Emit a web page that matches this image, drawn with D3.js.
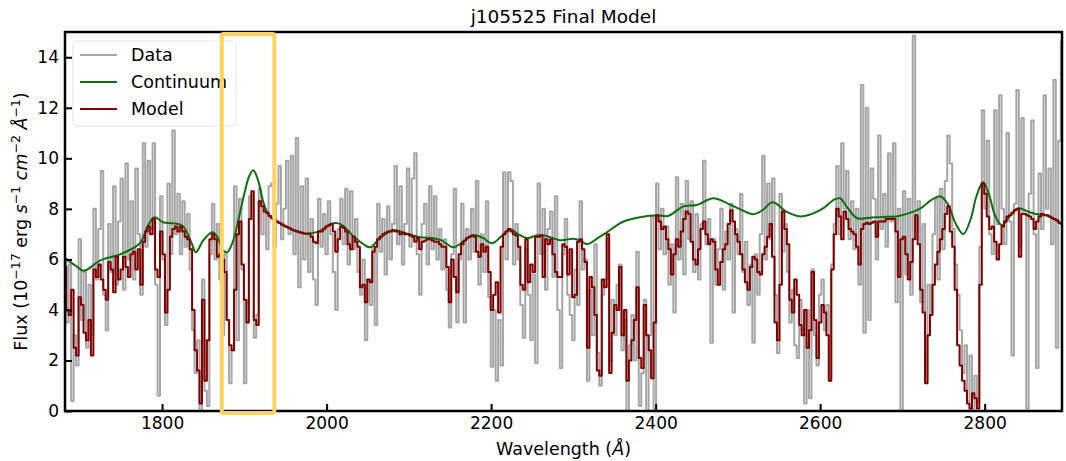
<!DOCTYPE html>
<html>
<head>
<meta charset="utf-8">
<script src="https://cdn.jsdelivr.net/npm/d3@7"></script>
<style>
  html, body { margin: 0; padding: 0; background: #fff; }
  svg { display: block; font-family: "DejaVu Sans", sans-serif; }
</style>
</head>
<body>
<svg id="chart" width="1066" height="461"></svg>
<script>
// Spectrum sampled on a regular wavelength grid (Angstrom)
const lambdaStart = 1682;
const lambdaStep = 3;

// Observed flux, 1e-17 erg/s/cm^2/A
const fluxData = [
  6.0,3.5,5.8,0.4,3.0,1.8,6.8,3.6,5.5,2.5,5.0,3.0,8.0,5.2,7.2,9.5,4.6,3.2,7.4,5.5,
  8.9,5.0,7.5,9.2,4.8,9.8,6.0,8.3,5.2,9.6,7.0,4.6,10.6,6.5,9.9,7.2,10.6,5.0,0.6,8.5,
  6.0,3.4,9.0,6.2,11.1,7.0,8.6,6.2,8.3,6.5,7.8,5.6,3.2,1.5,2.8,0.0,5.2,0.8,0.2,6.2,
  8.2,6.0,7.4,5.2,3.0,6.2,3.6,1.1,2.4,8.9,2.8,8.4,5.6,1.1,4.3,8.5,7.6,2.9,3.8,8.8,
  7.0,8.0,6.4,8.9,9.0,6.5,8.2,9.7,6.8,8.0,9.9,7.0,10.1,6.2,10.8,4.9,8.9,6.0,9.2,5.5,
  7.6,5.2,4.2,8.4,6.5,7.8,6.2,8.3,7.0,5.5,4.0,7.2,8.4,6.6,8.8,5.8,8.7,6.4,7.6,5.5,
  4.6,6.0,2.8,5.2,4.2,6.5,3.4,8.2,6.3,7.6,5.4,8.1,6.0,7.4,9.7,6.6,8.9,5.8,7.4,9.6,
  6.5,9.2,10.2,6.2,4.6,7.4,8.2,5.8,8.9,6.4,8.5,6.0,7.2,5.6,6.8,4.8,3.3,6.2,8.8,3.5,
  6.0,8.2,3.5,7.2,6.0,8.0,6.3,9.1,5.0,7.0,5.5,8.3,4.5,1.75,4.0,1.2,3.6,1.8,9.45,6.0,
  9.45,9.1,5.8,7.4,6.0,4.2,2.9,6.4,4.6,2.8,5.4,1.9,9.0,6.2,8.0,4.8,7.2,7.9,5.3,8.5,
  4.0,1.7,6.2,7.6,4.6,3.8,2.8,5.6,4.2,8.3,5.6,6.0,1.2,4.8,3.0,6.6,2.3,1.0,4.6,5.2,
  6.8,2.0,4.4,3.0,5.0,5.8,2.4,3.6,0.0,2.6,3.8,2.0,6.3,0.2,1.5,4.4,0.0,3.0,7.7,0.0,
  9.0,6.4,8.0,6.2,7.3,5.0,6.6,3.9,9.25,6.0,8.2,5.4,9.1,6.8,8.3,5.5,7.8,5.2,7.4,9.9,
  6.6,7.6,2.7,6.8,5.0,6.4,8.0,4.8,7.1,6.0,8.2,3.9,7.2,6.2,8.6,5.5,6.7,4.2,5.8,2.7,
  6.2,4.6,7.0,10.1,6.0,9.0,6.8,9.2,4.6,2.3,8.6,6.3,7.4,5.5,3.5,4.8,2.6,2.1,4.4,3.2,
  0.3,4.0,0.5,5.6,3.0,1.8,4.6,5.2,3.2,4.2,1.2,5.8,7.4,9.7,7.0,10.6,8.0,9.5,6.8,8.3,
  6.4,8.0,5.0,12.9,3.1,12.0,3.6,9.6,8.4,6.0,10.9,7.2,8.6,6.5,10.2,7.5,10.6,4.3,8.0,0.0,
  8.7,5.4,8.4,4.6,14.85,6.8,8.3,4.3,7.4,1.2,5.0,3.8,7.0,8.4,5.2,8.8,6.4,9.1,10.9,9.8,
  7.2,5.8,4.6,3.2,1.5,2.6,0.4,2.2,0.0,1.4,0.3,6.5,11.9,8.0,10.7,7.0,6.2,11.9,7.4,12.5,
  8.0,6.6,11.0,7.5,2.2,8.2,12.7,6.5,11.6,7.8,0.1,8.6,11.5,7.0,1.7,9.4,7.2,12.5,8.0,9.6,6.6,13.1,2.5,10.7,14.6
];

// Final model flux on the same grid
const modelFlux = [
  5.7,4.0,3.8,4.8,2.5,2.2,4.5,4.2,3.1,2.8,3.6,2.2,5.6,5.3,5.8,5.2,4.8,4.4,5.9,5.6,
  4.7,6.1,5.2,5.6,6.1,5.7,5.3,6.2,6.3,5.6,6.4,5.0,6.7,7.1,7.3,7.0,7.6,5.6,5.3,7.1,
  6.2,3.9,4.8,6.9,7.2,7.3,7.1,7.3,7.1,6.9,6.8,6.4,4.0,2.4,1.6,0.3,4.4,1.2,2.8,6.8,
  7.0,6.8,6.1,6.2,6.0,5.5,3.6,2.6,2.4,4.8,7.0,7.5,5.8,4.4,3.5,7.6,8.7,3.6,3.4,8.3,
  8.1,7.9,7.85,7.72,7.63,7.56,7.5,7.44,7.38,7.33,7.28,7.23,7.18,7.14,7.11,7.08,7.05,7.03,7.02,7.03,
  6.9,6.7,6.65,7.1,7.1,7.2,7.3,7.35,7.4,7.1,6.3,6.8,7.3,7.25,7.1,6.6,6.4,6.9,6.7,6.5,
  4.9,5.0,4.3,5.2,5.1,6.3,6.5,6.8,6.9,7.0,7.05,7.1,7.1,7.15,7.1,7.1,7.0,7.05,7.0,7.0,
  6.95,6.9,6.7,6.85,6.4,6.7,6.75,6.8,6.8,6.75,6.7,6.7,6.6,6.5,6.5,5.7,4.3,6.0,5.3,4.7,
  6.2,6.6,6.75,6.85,6.9,6.95,6.9,6.3,6.1,6.6,6.3,6.5,5.5,4.0,4.6,5.1,3.9,6.5,7.0,7.1,
  7.2,7.1,7.0,6.95,6.5,5.0,4.8,6.8,5.1,5.8,5.5,6.9,6.9,6.95,5.3,6.8,6.6,6.8,6.2,5.5,
  5.3,5.3,6.6,6.5,5.4,6.4,4.5,4.6,6.7,6.8,6.4,5.9,2.5,5.3,4.9,3.8,1.6,1.4,5.2,4.9,
  7.0,1.5,3.1,4.2,4.0,5.7,3.0,4.0,1.2,2.0,2.8,3.6,4.9,2.1,1.7,4.2,3.0,2.4,1.3,3.5,
  7.75,7.5,7.2,7.3,6.8,6.4,5.4,6.2,6.8,6.5,7.1,7.6,7.9,7.8,6.7,6.0,5.8,6.4,7.2,7.5,
  7.0,6.6,6.8,6.7,5.6,5.0,5.9,6.4,6.6,7.4,7.95,7.5,7.0,6.7,6.2,5.6,5.1,4.8,5.7,6.1,
  6.0,5.5,5.4,6.2,6.5,6.9,7.4,6.1,3.5,2.8,5.0,7.9,7.2,6.6,4.4,3.9,5.2,4.6,3.4,3.0,
  4.0,2.5,3.2,5.5,3.6,2.1,3.5,4.2,3.9,3.0,1.2,5.6,7.0,8.0,7.7,6.8,7.9,7.6,7.2,7.1,
  7.0,6.5,5.8,7.2,7.4,7.45,7.4,7.45,7.5,6.9,7.5,7.5,7.5,7.6,7.6,7.6,7.6,7.1,5.3,6.8,
  6.9,6.2,5.2,5.9,6.8,7.75,6.6,4.8,3.9,1.1,3.0,3.8,5.0,5.8,6.3,6.8,7.2,7.8,8.1,7.1,
  6.5,4.8,2.6,1.8,1.2,0.8,0.3,0.1,0.7,0.5,0.1,5.0,9.0,8.6,7.7,7.2,7.3,6.7,6.0,6.6,
  7.3,7.5,7.7,7.75,7.85,7.95,8.0,6.1,7.8,7.8,7.75,7.7,7.6,7.2,7.5,7.7,7.8,7.75,7.75,7.7,7.65,7.6,7.55,7.45,7.4
];

// Continuum fit, sampled at knot wavelengths
const continuumWave = [
  1682,1695,1705,1725,1749,1773,1783,1791,1801,1813,1825,1836,1841,1850,1861,1867,1874,1879,1886,1893,
  1900,1906,1911,1917,1922,1928,1935,1945,1960,1975,1990,2008,2018,2030,2045,2053,2065,2081,2095,2114,
  2130,2140,2154,2166,2178,2190,2201,2212,2223,2233,2244,2255,2265,2284,2300,2308,2317,2330,2341,2361,
  2381,2402,2415,2434,2450,2470,2487,2503,2519,2530,2542,2560,2576,2590,2605,2616,2624,2632,2645,2660,
  2675,2694,2710,2722,2735,2746,2755,2765,2774,2783,2790,2798,2805,2813,2821,2830,2841,2852,2864,2875,
  2884,2894
];
const continuumFlux = [
  6.05,5.75,5.55,5.96,6.2,6.64,7.35,7.67,7.47,7.43,7.33,6.64,6.28,6.75,7.07,6.9,6.36,6.28,6.7,7.6,
  8.6,9.3,9.53,9.1,8.4,7.85,7.6,7.4,7.15,7.02,7.1,7.43,7.38,7.0,6.6,6.48,6.85,7.15,7.05,6.88,
  6.84,6.75,6.48,6.7,6.96,6.85,6.64,6.9,7.19,7.0,6.84,6.95,6.95,6.76,6.82,6.75,6.6,6.85,7.08,7.5,
  7.67,7.75,7.72,8.1,8.15,8.42,8.22,7.98,7.79,7.95,8.26,7.87,7.7,7.8,8.05,8.35,8.42,8.1,7.63,7.65,
  7.68,7.71,7.85,8.02,8.35,8.5,8.2,7.4,7.0,7.6,8.5,9.05,8.6,7.7,7.35,7.7,8.02,7.9,7.79,7.75,
  7.6,7.39
];

const xDomain = [1682, 2894];
const yDomain = [0, 15];
const xTicks = [1800, 2000, 2200, 2400, 2600, 2800];
const yTicks = [0, 2, 4, 6, 8, 10, 12, 14];
const legendLabels = ["Data", "Continuum", "Model"];
const titleText = "j105525 Final Model";
const highlightWave = [1872.6, 1936.5];

// ---- layout & styles ----
const colors = { data: "#a6a6a6", continuum: "#0f6e0f", model: "#800000" };
const plot = { left: 65, right: 1062, top: 32, bottom: 411 };

const svg = d3.select("#chart");
const x = d3.scaleLinear().domain(xDomain).range([plot.left, plot.right]);
const y = d3.scaleLinear().domain(yDomain).range([plot.bottom, plot.top]);

const waves = fluxData.map((_, i) => lambdaStart + i * lambdaStep);
const spectrum = waves.map((w, i) => ({ w, f: fluxData[i], m: modelFlux[i] }));
const continuum = continuumWave.map((w, i) => ({ w, f: continuumFlux[i] }));

svg.append("defs").append("clipPath").attr("id", "plotClip")
  .append("rect")
  .attr("x", plot.left).attr("y", plot.top)
  .attr("width", plot.right - plot.left).attr("height", plot.bottom - plot.top);

const lines = svg.append("g").attr("clip-path", "url(#plotClip)");

// spectra are drawn as mid-point steps, one bin per sample
const stepLine = acc => d3.line().x(d => x(d.w)).y(d => y(acc(d))).curve(d3.curveStep);

lines.append("path").datum(spectrum)
  .attr("fill", "none").attr("stroke", colors.data).attr("stroke-width", 2)
  .attr("stroke-linejoin", "round")
  .attr("d", stepLine(d => d.f));

lines.append("path").datum(continuum)
  .attr("fill", "none").attr("stroke", colors.continuum).attr("stroke-width", 2)
  .attr("d", d3.line().x(d => x(d.w)).y(d => y(d.f)).curve(d3.curveCatmullRom.alpha(0.5)));

lines.append("path").datum(spectrum)
  .attr("fill", "none").attr("stroke", colors.model).attr("stroke-width", 2)
  .attr("stroke-linejoin", "round")
  .attr("d", stepLine(d => d.m));

// ---- axes (ticks pointing inward) ----
const xAxis = svg.append("g").attr("transform", `translate(0,${plot.bottom})`)
  .call(d3.axisBottom(x).tickValues(xTicks).tickSize(-7).tickPadding(6).tickFormat(d3.format("d")));
const yAxis = svg.append("g").attr("transform", `translate(${plot.left},0)`)
  .call(d3.axisLeft(y).tickValues(yTicks).tickSize(-7).tickPadding(6).tickFormat(d3.format("d")));

[xAxis, yAxis].forEach(g => {
  g.select(".domain").remove();
  g.selectAll(".tick line").attr("stroke", "#000").attr("stroke-width", 2);
  g.selectAll(".tick text")
    .attr("fill", "#000")
    .style("font-family", "'DejaVu Sans', sans-serif")
    .style("font-size", "17px");
});

// frame
svg.append("rect")
  .attr("x", plot.left).attr("y", plot.top)
  .attr("width", plot.right - plot.left).attr("height", plot.bottom - plot.top)
  .attr("fill", "none").attr("stroke", "#000").attr("stroke-width", 2.5);

// ---- title & axis labels ----
svg.append("text")
  .attr("x", (plot.left + plot.right) / 2).attr("y", 23)
  .attr("text-anchor", "middle").attr("font-size", 18.5).attr("fill", "#000")
  .text(titleText);

const xLabel = svg.append("text")
  .attr("x", (plot.left + plot.right) / 2).attr("y", 455)
  .attr("text-anchor", "middle").attr("font-size", 17.5).attr("fill", "#000");
xLabel.append("tspan").text("Wavelength (");
xLabel.append("tspan").attr("font-style", "italic").text("Å");
xLabel.append("tspan").text(")");

const yLabel = svg.append("text")
  .attr("transform", `translate(27,${(plot.top + plot.bottom) / 2}) rotate(-90)`)
  .attr("text-anchor", "middle").attr("font-size", 17.5).attr("fill", "#000");
const yParts = [
  { t: "Flux (10" }, { t: "−17", sup: true }, { t: " erg " },
  { t: "s", it: true }, { t: "−1", sup: true }, { t: " " },
  { t: "cm", it: true }, { t: "−2", sup: true }, { t: " " },
  { t: "Å", it: true }, { t: "−1", sup: true }, { t: ")" }
];
let raised = false;
yParts.forEach(p => {
  const ts = yLabel.append("tspan").text(p.t);
  if (p.it) ts.attr("font-style", "italic");
  if (p.sup) {
    ts.attr("font-size", 12.5).attr("dy", raised ? 0 : -7);
    raised = true;
  } else if (raised) {
    ts.attr("dy", 7);
    raised = false;
  }
});

// ---- legend ----
const legend = svg.append("g").attr("transform", "translate(73,41)");
legend.append("rect")
  .attr("width", 163).attr("height", 85).attr("rx", 4)
  .attr("fill", "#fff").attr("fill-opacity", 0.8)
  .attr("stroke", "#e6e6e6").attr("stroke-width", 1);
const legendColors = [colors.data, colors.continuum, colors.model];
legendLabels.forEach((lab, i) => {
  const row = legend.append("g").attr("transform", `translate(0,${14 + i * 27})`);
  row.append("line").attr("x1", 7).attr("x2", 44)
    .attr("stroke", legendColors[i]).attr("stroke-width", 2);
  row.append("text").attr("x", 58).attr("dy", "0.35em")
    .attr("font-size", 17.5).attr("fill", "#000").text(lab);
});

// ---- highlighted wavelength window ----
svg.append("rect")
  .attr("x", x(highlightWave[0])).attr("y", plot.top + 2)
  .attr("width", x(highlightWave[1]) - x(highlightWave[0]))
  .attr("height", plot.bottom - plot.top)
  .attr("rx", 2)
  .attr("fill", "none").attr("stroke", "#ffd45e").attr("stroke-width", 4);
</script>
</body>
</html>
